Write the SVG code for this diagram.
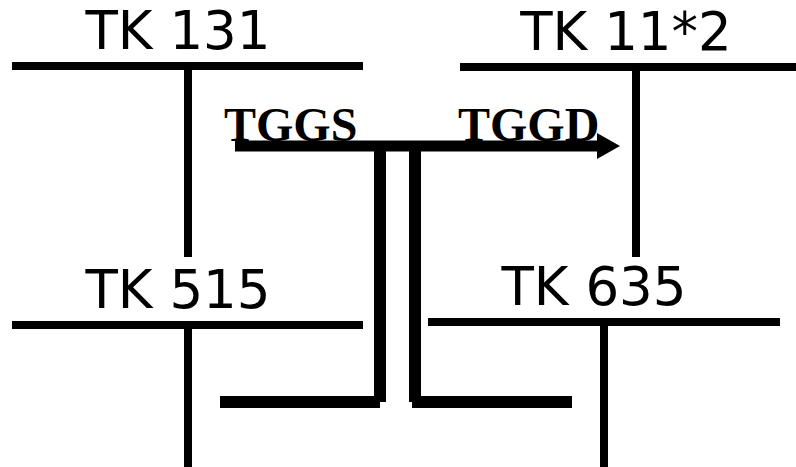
<svg xmlns="http://www.w3.org/2000/svg" width="796" height="467" viewBox="0 0 796 467">
<defs>
<style>
.lbl{font-family:"DejaVu Sans",sans-serif;font-size:53px;fill:#000;text-anchor:middle}
.sig{font-family:"Liberation Serif","Times New Roman",serif;font-size:48px;font-weight:bold;fill:#000}
.ln{stroke:#000;stroke-width:8;fill:none;stroke-linecap:butt}
.thick{stroke:#000;stroke-width:12;fill:none;stroke-linecap:butt}
</style>
<marker id="ah" markerUnits="userSpaceOnUse" markerWidth="24" markerHeight="26" refX="0" refY="13" orient="auto">
<path d="M0,0 L23,13 L0,26 Z" fill="#000"/>
</marker>
</defs>
<rect width="796" height="467" fill="#fff"/>
<g id="tk131">
<text class="lbl" x="178" y="49">TK 131</text>
<line class="ln" x1="12" y1="66" x2="363" y2="66"/>
</g>
<g id="tk112">
<text class="lbl" x="626" y="50">TK 11*2</text>
<line class="ln" x1="460" y1="67" x2="796" y2="67"/>
</g>
<g id="tk515">
<text class="lbl" x="178" y="308">TK 515</text>
<line class="ln" x1="12" y1="325" x2="363" y2="325"/>
</g>
<g id="tk635">
<text class="lbl" x="594" y="305">TK 635</text>
<line class="ln" x1="428" y1="322" x2="780" y2="322"/>
</g>
<g id="labels">
<text class="sig" x="224" y="141">TGGS</text>
<text class="sig" x="458" y="141">TGGD</text>
</g>
<g id="connectors">
<line class="ln" x1="188" y1="66" x2="188" y2="257"/>
<line class="ln" x1="636" y1="67" x2="636" y2="257"/>
<line class="ln" x1="188" y1="325" x2="188" y2="467"/>
<line class="ln" x1="604" y1="322" x2="604" y2="467"/>
<line x1="235" y1="146" x2="597" y2="146" stroke="#000" stroke-width="11" marker-end="url(#ah)"/>
<line class="thick" x1="380" y1="146" x2="380" y2="402"/>
<line class="thick" x1="415" y1="146" x2="415" y2="402"/>
<line class="thick" x1="220" y1="402" x2="380" y2="402"/>
<line class="thick" x1="412" y1="402" x2="572" y2="402"/>
</g>
</svg>
